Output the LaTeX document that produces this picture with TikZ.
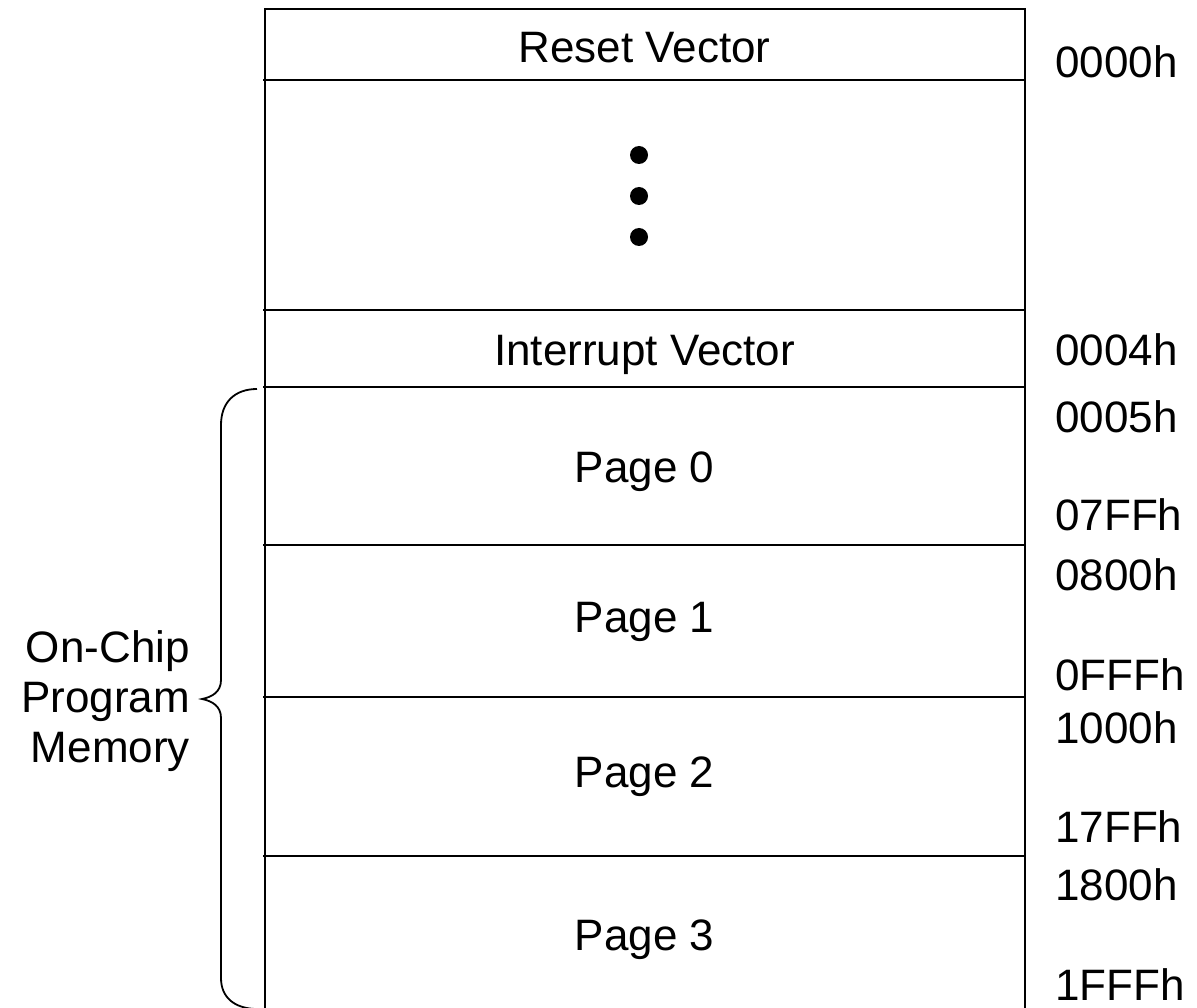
\documentclass[tikz,border=0pt]{standalone}
\usepackage{fontspec}
\setmainfont{Liberation Sans}
\begin{document}
\begin{tikzpicture}[x=1pt,y=-1pt,
  frame/.style={line width=1.8pt,black},
  lbl/.style={inner sep=0pt,font=\fontsize{44}{50}\selectfont},
  addr/.style={lbl,anchor=base west},
  cell/.style={lbl,anchor=base}]
\useasboundingbox (0,0) rectangle (1197,1008);
% frame
\coordinate (tl) at (265,9);
\coordinate (tr) at (1025,9);
\coordinate (bl) at (265,1010);
\coordinate (br) at (1025,1010);
\draw[frame] (bl) -- (tl) -- (tr) -- (br);
\foreach \y in {80,310,387,545,697,856}
  \draw[frame] (263,\y) -- (1025,\y);
% cell texts
\node[cell] (reset) at (644.5,63) {Reset Vector};
\node[cell] (intv) at (644.5,365) {Interrupt Vector};
\node[cell] (p0) at (644.5,482) {Page 0};
\node[cell] (p1) at (644.5,632) {Page 1};
\node[cell] (p2) at (644.5,787) {Page 2};
\node[cell] (p3) at (644.5,950) {Page 3};
% dots
\foreach \y/\n in {155/d1,196/d2,237/d3}
  \fill (639,\y) circle (9) coordinate (\n);
% addresses
\node[addr] (a0000) at (1055,78) {0000h};
\node[addr] (a0004) at (1055,365) {0004h};
\node[addr] (a0005) at (1055,432) {0005h};
\node[addr] (a07ff) at (1055,530) {07FFh};
\node[addr] (a0800) at (1055,590) {0800h};
\node[addr] (a0fff) at (1055,690) {0FFFh};
\node[addr] (a1000) at (1055,743) {1000h};
\node[addr] (a17ff) at (1055,842) {17FFh};
\node[addr] (a1800) at (1055,900) {1800h};
\node[addr] (a1fff) at (1055,1000) {1FFFh};
% brace
\draw[frame] (257,389) .. controls (235,389) and (221,402) .. (221,425)
  -- (221,680) .. controls (221,692) and (212,697) .. (202,699)
  .. controls (212,701) and (221,706) .. (221,718)
  -- (221,978) .. controls (221,998) and (235,1008) .. (255,1009);
\node[lbl,anchor=base east,align=right] (mem) at (190,762) {On-Chip\\Program\\Memory};
\end{tikzpicture}
\end{document}
